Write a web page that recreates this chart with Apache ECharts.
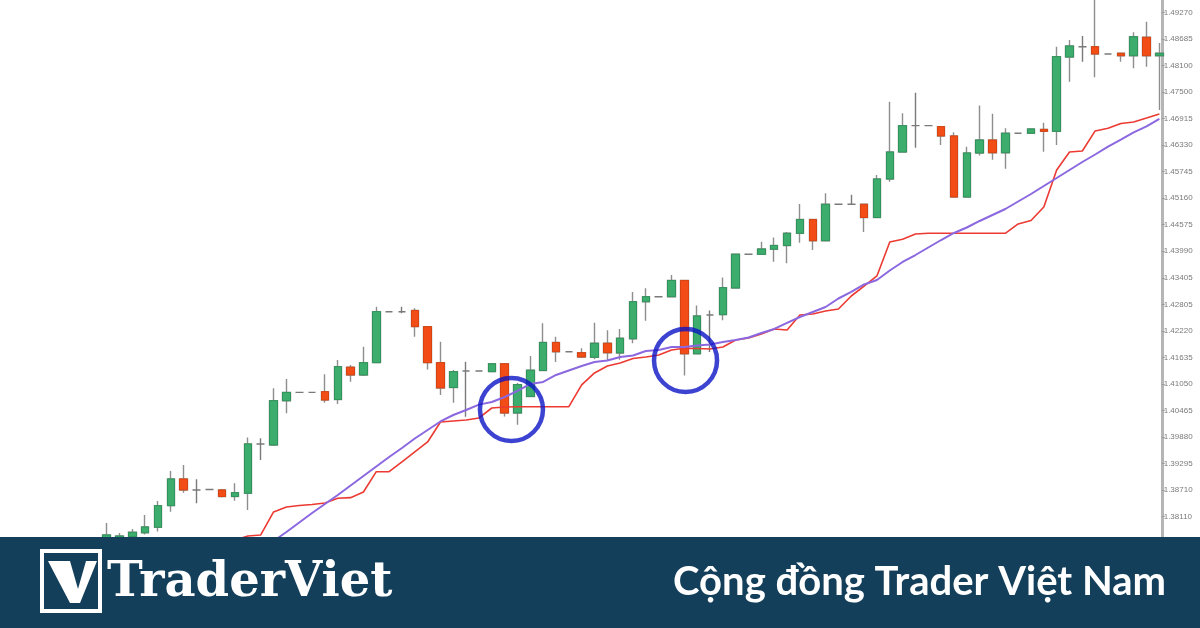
<!DOCTYPE html>
<html><head><meta charset="utf-8">
<script src="https://cdn.jsdelivr.net/npm/echarts@6.0.0/dist/echarts.min.js"></script>
<style>html,body{margin:0;padding:0;background:#fff}#c{width:1200px;height:628px}</style>
</head><body><div id="c"></div>
<script>
// ---- data ----
const opens = [1.37573,1.37617,1.37668,1.37756,1.37877,1.38354,1.38945,1.38702,1.38713,1.38702,1.38557,1.38629,1.39720,1.39697,1.40677,1.40860,1.40860,1.40877,1.40703,1.41417,1.41246,1.41518,1.42646,1.42646,1.42673,1.42315,1.41518,1.40970,1.41335,1.41335,1.41319,1.41494,1.40405,1.40771,1.41346,1.41965,1.41761,1.41739,1.41638,1.41947,1.41733,1.42047,1.42867,1.42978,1.42978,1.43337,1.41715,1.42573,1.42580,1.43171,1.43918,1.43916,1.44029,1.44110,1.44380,1.44684,1.44217,1.45022,1.45022,1.45022,1.44730,1.45582,1.46179,1.46762,1.46762,1.46740,1.46534,1.45183,1.46157,1.46444,1.46163,1.46594,1.46594,1.46680,1.46636,1.48281,1.48509,1.48509,1.48348,1.48363,1.48310,1.48717,1.48310];
const highs = [1.37972,1.37750,1.37838,1.38148,1.38458,1.39122,1.39254,1.38938,1.38713,1.38724,1.38850,1.39863,1.39846,1.40953,1.41158,1.40860,1.40860,1.41262,1.41578,1.41467,1.41872,1.42757,1.42646,1.42757,1.42722,1.42330,1.41982,1.41357,1.41540,1.41335,1.41512,1.41512,1.41070,1.41666,1.42390,1.42094,1.41761,1.41837,1.42403,1.42235,1.42264,1.43082,1.43164,1.42978,1.43458,1.43348,1.42783,1.42673,1.43403,1.43934,1.43918,1.44194,1.44287,1.44409,1.45029,1.44697,1.45265,1.45022,1.45234,1.45029,1.45670,1.47292,1.47036,1.47491,1.46762,1.46755,1.46614,1.46296,1.47208,1.47027,1.46705,1.46594,1.46700,1.46828,1.48509,1.48657,1.48745,1.49653,1.48348,1.48370,1.48827,1.49062,1.48591];
const lows = [1.37485,1.37551,1.37617,1.37717,1.37784,1.38221,1.38642,1.38407,1.38713,1.38535,1.38465,1.38259,1.39365,1.39675,1.40398,1.40860,1.40860,1.40632,1.40604,1.41098,1.41224,1.41505,1.42646,1.42611,1.42094,1.41368,1.40804,1.40632,1.40323,1.41335,1.41312,1.40327,1.40146,1.40760,1.41335,1.41534,1.41761,1.41622,1.41593,1.41567,1.41585,1.41947,1.42448,1.42978,1.42971,1.41235,1.41711,1.41755,1.42456,1.43171,1.43918,1.43900,1.43752,1.43717,1.44172,1.44011,1.44210,1.45022,1.45011,1.44409,1.44719,1.45522,1.46168,1.46274,1.46762,1.46334,1.45172,1.45172,1.46101,1.46009,1.45808,1.46594,1.46589,1.46185,1.46334,1.47735,1.48177,1.47833,1.48348,1.48177,1.48032,1.48067,1.47109];
const closes = [1.37706,1.37683,1.37765,1.37883,1.38354,1.38945,1.38702,1.38702,1.38713,1.38557,1.38642,1.39720,1.39720,1.40677,1.40860,1.40860,1.40860,1.40692,1.41430,1.41246,1.41518,1.42646,1.42646,1.42646,1.42315,1.41518,1.40959,1.41319,1.41335,1.41335,1.41494,1.40405,1.41032,1.41351,1.41965,1.41761,1.41761,1.41644,1.41947,1.41739,1.42058,1.42867,1.42978,1.42978,1.43337,1.41715,1.42551,1.42573,1.43177,1.43918,1.43918,1.44033,1.44110,1.44380,1.44684,1.44217,1.45022,1.45022,1.45022,1.44730,1.45582,1.46179,1.46762,1.46762,1.46762,1.46534,1.45183,1.46157,1.46444,1.46163,1.46594,1.46594,1.46689,1.46636,1.48288,1.48524,1.48509,1.48348,1.48348,1.48310,1.48730,1.48310,1.48363];
const redLine = [null,null,null,null,null,null,null,null,null,1.37485,1.37595,1.37683,1.37706,1.38215,1.38325,1.38358,1.38380,1.38414,1.38518,1.38531,1.38657,1.39106,1.39106,1.39321,1.39542,1.39763,1.40205,1.40227,1.40250,1.40294,1.40515,1.40537,1.40544,1.40544,1.40544,1.40544,1.40544,1.41025,1.41291,1.41445,1.41512,1.41611,1.41644,1.41688,1.41799,1.41837,1.41832,1.41821,1.41865,1.42020,1.42064,1.42153,1.42264,1.42241,1.42573,1.42595,1.42662,1.42706,1.42993,1.43214,1.43436,1.44188,1.44248,1.44365,1.44380,1.44380,1.44380,1.44380,1.44380,1.44380,1.44380,1.44587,1.44664,1.44962,1.45781,1.46179,1.46201,1.46645,1.46705,1.46811,1.46844,1.46932,1.47021];
const purpleLine = [null,null,null,null,null,null,null,null,null,null,null,null,1.37374,1.37573,1.37771,1.37983,1.38193,1.38392,1.38591,1.38801,1.39011,1.39221,1.39431,1.39630,1.39841,1.40029,1.40217,1.40360,1.40471,1.40590,1.40648,1.40758,1.40893,1.41048,1.41092,1.41246,1.41346,1.41445,1.41534,1.41567,1.41644,1.41677,1.41777,1.41799,1.41865,1.41865,1.41898,1.41921,1.41976,1.42020,1.42075,1.42175,1.42264,1.42397,1.42529,1.42640,1.42750,1.42938,1.43082,1.43248,1.43348,1.43558,1.43746,1.43900,1.44066,1.44232,1.44387,1.44509,1.44653,1.44785,1.44918,1.45084,1.45250,1.45427,1.45604,1.45781,1.45958,1.46124,1.46300,1.46455,1.46612,1.46744,1.46910];
const priceTicks = ['1.38110','1.38710','1.39295','1.39880','1.40465','1.41050','1.41635','1.42220','1.42805','1.43405','1.43990','1.44575','1.45160','1.45745','1.46330','1.46915','1.47500','1.48100','1.48685','1.49270'];
const highlightIdx = [31.53, 45.09];
const highlightPrice = [1.40482, 1.41567];
const priceMin = 1.356475, priceMax = 1.495421;
const brand = 'TraderViet';
const slogan = 'Cộng đồng Trader Việt Nam';

// ---- build ----
const n = opens.length;
const cats = opens.map((_, i) => String(i));
const wickData = opens.map((o, i) => [o, closes[i], lows[i], highs[i]]);
const bodyData = opens.map((o, i) => o === closes[i] ? '-' :
  [o, closes[i], Math.min(o, closes[i]), Math.max(o, closes[i])]);
const circleData = highlightIdx.map((x, i) => [x, highlightPrice[i]]);

const chart = echarts.init(document.getElementById('c'), null, {renderer: 'canvas'});
chart.setOption({
  animation: false,
  backgroundColor: '#ffffff',
  grid: [
    {left: 100.28, width: 1065.5, top: 0, height: 628},
    {left: 1100, right: 38.3, top: 12.3, bottom: 111.3}
  ],
  xAxis: [
    {type: 'category', gridIndex: 0, data: cats, boundaryGap: true, show: false},
    {type: 'value', gridIndex: 0, min: -0.5, max: n - 0.5, show: false},
    {type: 'value', gridIndex: 1, min: 0, max: 1, show: false}
  ],
  yAxis: [
    {type: 'value', gridIndex: 0, min: priceMin, max: priceMax, position: 'right', offset: -4,
     axisLine: {show: true, onZero: false, lineStyle: {color: '#b5b5b5', width: 3}},
     axisLabel: {show: false}, axisTick: {show: false}, splitLine: {show: false}},
    {type: 'category', gridIndex: 1, data: priceTicks, boundaryGap: false, position: 'right',
     axisLine: {show: false, onZero: false},
     axisTick: {show: true, length: 3, lineStyle: {color: '#9a9a9a', width: 1}},
     axisLabel: {fontSize: 8, color: '#7a7a7a', margin: 2, interval: 0, fontFamily: 'Arial, "Liberation Sans", sans-serif'},
     splitLine: {show: false}}
  ],
  series: [
    {type: 'candlestick', name: 'wicks', xAxisIndex: 0, yAxisIndex: 0, data: wickData, barWidth: 8, z: 2, silent: true,
     itemStyle: {color: '#8e8e8e', color0: '#8e8e8e', borderColor: '#8e8e8e', borderColor0: '#8e8e8e', borderColorDoji: '#7a7a7a', borderWidth: 1.4}},
    {type: 'candlestick', name: 'bodies', xAxisIndex: 0, yAxisIndex: 0, data: bodyData, barWidth: 8, z: 3, silent: true,
     itemStyle: {color: '#3dad6e', color0: '#f24d16', borderColor: '#2f945a', borderColor0: '#d94310', borderWidth: 1}},
    {type: 'line', name: 'red', xAxisIndex: 0, yAxisIndex: 0, data: redLine, showSymbol: false, symbol: 'none', z: 4,
     lineStyle: {color: '#ec3a32', width: 1.6}, silent: true},
    {type: 'line', name: 'purple', xAxisIndex: 0, yAxisIndex: 0, data: purpleLine, showSymbol: false, symbol: 'none', z: 4,
     lineStyle: {color: '#8b68e0', width: 2}, silent: true},
    {type: 'scatter', name: 'circles', xAxisIndex: 1, yAxisIndex: 0, data: circleData, symbol: 'circle', symbolSize: 63, z: 6, silent: true,
     itemStyle: {color: 'rgba(0,0,0,0)', borderColor: '#0c14c6', borderWidth: 4.5}}
  ],
  graphic: [
    {type: 'rect', shape: {x: 0, y: 537, width: 1200, height: 91}, style: {fill: '#133f5a'}, z: 100, silent: true},
    {type: 'rect', shape: {x: 42, y: 551, width: 58, height: 60}, style: {fill: 'none', stroke: '#ffffff', lineWidth: 4}, z: 101, silent: true},
    {type: 'polygon', shape: {points: [[48,561],[70,561],[78,589],[86,561],[97,561],[80,603],[70,603]]}, style: {fill: '#ffffff'}, z: 101, silent: true},
    {type: 'text', x: 107, y: 584, style: {text: brand, font: 'bold 48px "DejaVu Serif"', fill: '#ffffff', textAlign: 'left', textVerticalAlign: 'middle'}, z: 101, silent: true},
    {type: 'text', x: 1166, y: 582, style: {text: slogan, font: 'bold 40px Lato', fill: '#ffffff', textAlign: 'right', textVerticalAlign: 'middle'}, z: 101, silent: true}
  ]
});
</script>
</body></html>
